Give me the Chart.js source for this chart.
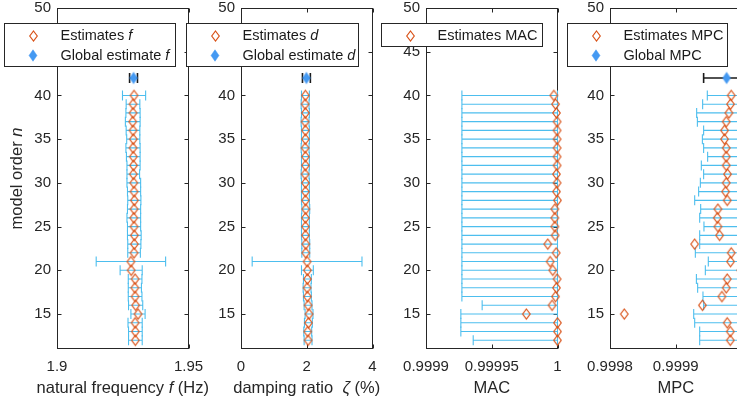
<!DOCTYPE html>
<html><head><meta charset="utf-8">
<script src="https://cdn.jsdelivr.net/npm/chart.js@4.4.1/dist/chart.umd.min.js"></script>
<style>
html,body{margin:0;padding:0;background:#fff;overflow:hidden}
#wrap{position:relative;width:737px;height:404px;overflow:hidden;background:#fff}
#wrap canvas{position:absolute;left:0;top:0}
</style></head>
<body><div id="wrap">
<canvas id="c1" width="800" height="404"></canvas>
<canvas id="c2" width="800" height="404"></canvas>
<canvas id="c3" width="800" height="404"></canvas>
<canvas id="c4" width="800" height="404"></canvas>
</div>
<script>
// ---------------- data ----------------
const orders = [12,13,14,15,16,17,18,19,20,21,22,23,24,25,26,27,28,29,30,31,32,33,34,35,36,37,38,39,40];
const globalOrder = 42;
const yTicks = [15,20,25,30,35,40,45,50];

// natural frequency f (Hz)
const fVals = [1.9298,1.9298,1.9297,1.9308,1.9299,1.9297,1.9296,1.9297,1.9282,1.9281,1.9293,1.9294,1.9294,1.9293,1.9292,1.9293,1.9294,1.9293,1.9292,1.9290,1.9291,1.9290,1.9289,1.9290,1.9289,1.9288,1.9289,1.9289,1.9293];
const fErr  = [0.0026,0.0026,0.0027,0.0027,0.0027,0.0026,0.0025,0.0026,0.0042,0.0132,0.0024,0.0025,0.0026,0.0025,0.0026,0.0025,0.0025,0.0025,0.0026,0.0024,0.0025,0.0026,0.0027,0.0025,0.0026,0.0028,0.0027,0.0026,0.0044];
const fGlobal = 1.9291, fGlobalErr = 0.0015;
const fTicks = [1.9, 1.95], fTickLabels = ['1.9', '1.95'];

// damping ratio (%)
const dVals = [2.04,2.03,2.05,2.07,2.04,2.02,2.01,2.02,2.02,2.01,1.97,1.97,1.96,1.96,1.96,1.97,1.96,1.96,1.96,1.95,1.96,1.96,1.95,1.96,1.96,1.95,1.96,1.95,1.96];
const dErr  = [0.12,0.12,0.12,0.12,0.12,0.12,0.12,0.12,0.18,1.67,0.12,0.12,0.12,0.12,0.12,0.12,0.12,0.12,0.12,0.12,0.12,0.12,0.12,0.12,0.12,0.12,0.12,0.12,0.12];
const dGlobal = 1.99, dGlobalErr = 0.12;
const dTicks = [0, 2, 4], dTickLabels = ['0', '2', '4'];

// MAC
const macVals = [1.0,1.0,1.0,0.9999763,0.9999959,0.9999985,0.9999992,0.9999997,0.9999964,0.9999944,0.999999,0.9999926,0.9999982,0.999998,0.999998,0.999998,1.0,0.9999992,0.9999997,0.9999992,0.9999997,0.9999997,0.9999997,0.9999997,0.9999997,0.9999997,0.9999992,0.9999985,0.9999972];
const macLow  = [0.9999359,0.9999265,0.9999265,0.9999265,0.9999427,0.9999273,0.9999273,0.9999273,0.9999273,0.9999273,0.9999273,0.9999273,0.9999273,0.9999273,0.9999273,0.9999273,0.9999273,0.9999273,0.9999273,0.9999273,0.9999273,0.9999273,0.9999273,0.9999273,0.9999273,0.9999273,0.9999273,0.9999273,0.9999273];
const macHigh = [1,1,1,1,1,1,1,1,1,1,1,1,1,1,1,1,1,1,1,1,1,1,1,1,1,1,1,1,1];
const macTicks = [0.9999, 0.99995, 1], macTickLabels = ['0.9999', '0.99995', '1'];

// MPC
const mpcVals = [0.9999829,0.9999829,0.9999783,0.9998217,0.9999405,0.9999702,0.9999768,0.9999783,0.999999,0.9999833,0.9999844,0.9999288,0.9999667,0.9999641,0.9999632,0.9999641,0.9999783,0.9999758,0.9999768,0.9999788,0.9999768,0.9999768,0.9999768,0.9999742,0.9999742,0.9999768,0.9999808,0.9999833,0.9999844];
const mpcLow  = [0.9999364,0.9999364,0.9999288,0.9999273,0.9999424,0.9999414,0.9999333,0.9999314,0.999945,0.9999495,0.9999298,0.9999364,0.9999364,0.9999429,0.9999364,0.9999379,0.9999288,0.9999348,0.9999374,0.9999424,0.9999389,0.9999485,0.9999424,0.9999405,0.9999424,0.9999329,0.9999318,0.9999409,0.999948];
const mpcHigh = [1,1,1,1,1,1,1,1,1,1,1,1,1,1,1,1,1,1,1,1,1,1,1,1,1,1,1,1,1];
const mpcGlobal = 0.9999773, mpcGlobalLow = 0.9999424, mpcGlobalHigh = 1;
const mpcTicks = [0.9998, 0.9999, 1], mpcTickLabels = ['0.9998', '0.9999', '1'];

// ---------------- style ----------------
const FONT = '"Liberation Sans", Arial, Helvetica, sans-serif';
const TXT = '#262626';
const ORANGE = '#D95319';
const ERRBLUE = '#4DBEEE';
const GLOBBLUE = '#4499F2';
const CW = 800;   // canvas width (wrapper clips to 737)
const YW = 50;    // y-axis box width
const XH = 55;    // x-axis box height

function makeDiamond(w, h, fill, stroke, lw) {
  const c = document.createElement('canvas');
  c.width = w + 4; c.height = h + 4;
  const g = c.getContext('2d');
  const cx = c.width / 2, cy = c.height / 2;
  g.beginPath();
  g.moveTo(cx, cy - h / 2); g.lineTo(cx + w / 2, cy); g.lineTo(cx, cy + h / 2); g.lineTo(cx - w / 2, cy); g.closePath();
  if (fill) { g.fillStyle = fill; g.fill(); }
  if (stroke) { g.strokeStyle = stroke; g.lineWidth = lw; g.stroke(); }
  return c;
}
const estMarker = makeDiamond(7.5, 10, null, ORANGE, 1.2);
const globMarker = makeDiamond(8, 11.5, GLOBBLUE, GLOBBLUE, 0.5);

function drawParts(ctx, parts, x, y, size, align) {
  let total = 0;
  const ws = parts.map(p => { ctx.font = (p[1] ? 'italic ' : '') + size + 'px ' + FONT; const w = ctx.measureText(p[0]).width; total += w; return w; });
  let cx = align === 'center' ? x - total / 2 : x;
  parts.forEach((p, i) => { ctx.font = (p[1] ? 'italic ' : '') + size + 'px ' + FONT; ctx.fillText(p[0], cx, y); cx += ws[i]; });
}

function makePanel(id, cfg) {
  const datasets = [{
    data: cfg.vals.map((v, i) => ({ x: v, y: orders[i] })),
    pointStyle: estMarker, pointRadius: 5, showLine: false, clip: false
  }];
  if (cfg.global !== undefined) {
    datasets.push({ data: [{ x: cfg.global, y: globalOrder }], pointStyle: globMarker, pointRadius: 5, showLine: false, clip: false });
  }
  const panelPlugin = {
    id: 'panel' + id,
    beforeDatasetsDraw(chart) {
      const { ctx, chartArea: a, scales: { x, y } } = chart;
      // axes box
      ctx.save();
      ctx.strokeStyle = TXT; ctx.lineWidth = 1;
      const L = Math.round(a.left) + 0.5, R = Math.round(a.right) - 0.5, T = Math.round(a.top) + 0.5, B = Math.round(a.bottom) - 0.5;
      ctx.strokeRect(L, T, R - L, B - T);
      ctx.beginPath();
      yTicks.forEach(v => { const py = Math.round(y.getPixelForValue(v)) + 0.5; ctx.moveTo(L, py); ctx.lineTo(L + 4, py); ctx.moveTo(R, py); ctx.lineTo(R - 4, py); });
      cfg.ticks.forEach(v => { const px = Math.round(x.getPixelForValue(v)) + 0.5; ctx.moveTo(px, B); ctx.lineTo(px, B - 4); ctx.moveTo(px, T); ctx.lineTo(px, T + 4); });
      ctx.stroke();
      ctx.restore();
      // error bars
      ctx.save();
      ctx.beginPath(); ctx.rect(a.left - 1, a.top, a.right - a.left + 2, a.bottom - a.top); ctx.clip();
      const bar = (lo, hi, n, color, lw) => {
        const x1 = x.getPixelForValue(lo), x2 = x.getPixelForValue(hi), py = y.getPixelForValue(n);
        ctx.strokeStyle = color; ctx.lineWidth = lw;
        ctx.beginPath();
        ctx.moveTo(x1, py); ctx.lineTo(x2, py);
        ctx.moveTo(x1, py - 5); ctx.lineTo(x1, py + 5);
        ctx.moveTo(x2, py - 5); ctx.lineTo(x2, py + 5);
        ctx.stroke();
      };
      orders.forEach((n, i) => bar(cfg.lo[i], cfg.hi[i], n, ERRBLUE, 1.1));
      if (cfg.global !== undefined) bar(cfg.gLo, cfg.gHi, globalOrder, '#1a1a1a', 1.6);
      ctx.restore();
    },
    afterDraw(chart) {
      const { ctx, chartArea: a } = chart;
      ctx.save();
      ctx.fillStyle = TXT; ctx.textBaseline = 'middle';
      drawParts(ctx, cfg.title, (a.left + a.right) / 2, 388, 16.5, 'center');
      if (cfg.ylabel) {
        ctx.translate(17, (a.top + a.bottom) / 2);
        ctx.rotate(-Math.PI / 2);
        drawParts(ctx, cfg.ylabel, 0, 0, 16.5, 'center');
      }
      ctx.restore();
      // legend
      const lg = cfg.legend;
      ctx.save();
      ctx.fillStyle = '#fff'; ctx.strokeStyle = TXT; ctx.lineWidth = 1;
      ctx.fillRect(lg.x, lg.y, lg.w, lg.h); ctx.strokeRect(lg.x, lg.y, lg.w, lg.h);
      ctx.textBaseline = 'middle'; ctx.fillStyle = '#1a1a1a';
      lg.items.forEach((it, k) => {
        const cy = lg.y + 12 + k * 19.5;
        const m = it.marker;
        ctx.drawImage(m, Math.round(lg.x + 28.5 - m.width / 2), Math.round(cy - m.height / 2));
        drawParts(ctx, it.parts, lg.x + 56, cy + 0.5, 14.5, 'left');
      });
      ctx.restore();
    }
  };
  const noPad = s => { s.paddingTop = 0; s.paddingBottom = 0; s.paddingLeft = 0; s.paddingRight = 0; };
  new Chart(document.getElementById(id), {
    type: 'scatter',
    data: { datasets },
    options: {
      responsive: false, animation: false, devicePixelRatio: 1,
      events: [],
      layout: { padding: { left: cfg.left - YW, right: CW - cfg.right, top: 8, bottom: 0 } },
      plugins: { legend: { display: false }, tooltip: { enabled: false } },
      scales: {
        x: {
          type: 'linear', min: cfg.min, max: cfg.max,
          afterBuildTicks: s => { s.ticks = cfg.ticks.map(v => ({ value: v })); },
          afterFit: s => { s.height = XH; noPad(s); },
          grid: { display: false, drawTicks: false }, border: { display: false },
          ticks: { callback: (v, i) => cfg.tickLabels[i], color: TXT, font: { family: FONT, size: 15 }, padding: 9, maxRotation: 0, autoSkip: false }
        },
        y: {
          type: 'linear', min: 11, max: 50,
          afterBuildTicks: s => { s.ticks = yTicks.map(v => ({ value: v })); },
          afterFit: s => { s.width = YW; noPad(s); },
          grid: { display: false, drawTicks: false }, border: { display: false },
          ticks: { callback: (v, i) => String(yTicks[i]), color: TXT, font: { family: FONT, size: 15 }, padding: 6, autoSkip: false }
        }
      }
    },
    plugins: [panelPlugin]
  });
}

makePanel('c1', {
  left: 57, right: 188.5, min: 1.9, max: 1.95, ticks: fTicks, tickLabels: fTickLabels,
  vals: fVals, lo: fVals.map((v, i) => v - fErr[i]), hi: fVals.map((v, i) => v + fErr[i]),
  global: fGlobal, gLo: fGlobal - fGlobalErr, gHi: fGlobal + fGlobalErr,
  title: [['natural frequency ', 0], ['f', 1], [' (Hz)', 0]],
  ylabel: [['model order ', 0], ['n', 1]],
  legend: { x: 4.5, y: 23.5, w: 171, h: 43, items: [
    { marker: estMarker, parts: [['Estimates ', 0], ['f', 1]] },
    { marker: globMarker, parts: [['Global estimate ', 0], ['f', 1]] }] }
});
makePanel('c2', {
  left: 241, right: 372.5, min: 0, max: 4, ticks: dTicks, tickLabels: dTickLabels,
  vals: dVals, lo: dVals.map((v, i) => v - dErr[i]), hi: dVals.map((v, i) => v + dErr[i]),
  global: dGlobal, gLo: dGlobal - dGlobalErr, gHi: dGlobal + dGlobalErr,
  title: [['damping ratio  ', 0], ['\u03B6', 1], [' (%)', 0]],
  legend: { x: 186.5, y: 23.5, w: 172, h: 43, items: [
    { marker: estMarker, parts: [['Estimates ', 0], ['d', 1]] },
    { marker: globMarker, parts: [['Global estimate ', 0], ['d', 1]] }] }
});
makePanel('c3', {
  left: 426, right: 557.5, min: 0.9999, max: 1, ticks: macTicks, tickLabels: macTickLabels,
  vals: macVals, lo: macLow, hi: macHigh,
  title: [['MAC', 0]],
  legend: { x: 381.5, y: 23.5, w: 161, h: 23, items: [
    { marker: estMarker, parts: [['Estimates MAC', 0]] }] }
});
makePanel('c4', {
  left: 610, right: 741.5, min: 0.9998, max: 1, ticks: mpcTicks, tickLabels: mpcTickLabels,
  vals: mpcVals, lo: mpcLow, hi: mpcHigh,
  global: mpcGlobal, gLo: mpcGlobalLow, gHi: mpcGlobalHigh,
  title: [['MPC', 0]],
  legend: { x: 567.5, y: 23.5, w: 160, h: 43, items: [
    { marker: estMarker, parts: [['Estimates MPC', 0]] },
    { marker: globMarker, parts: [['Global MPC', 0]] }] }
});
</script>
</body></html>
